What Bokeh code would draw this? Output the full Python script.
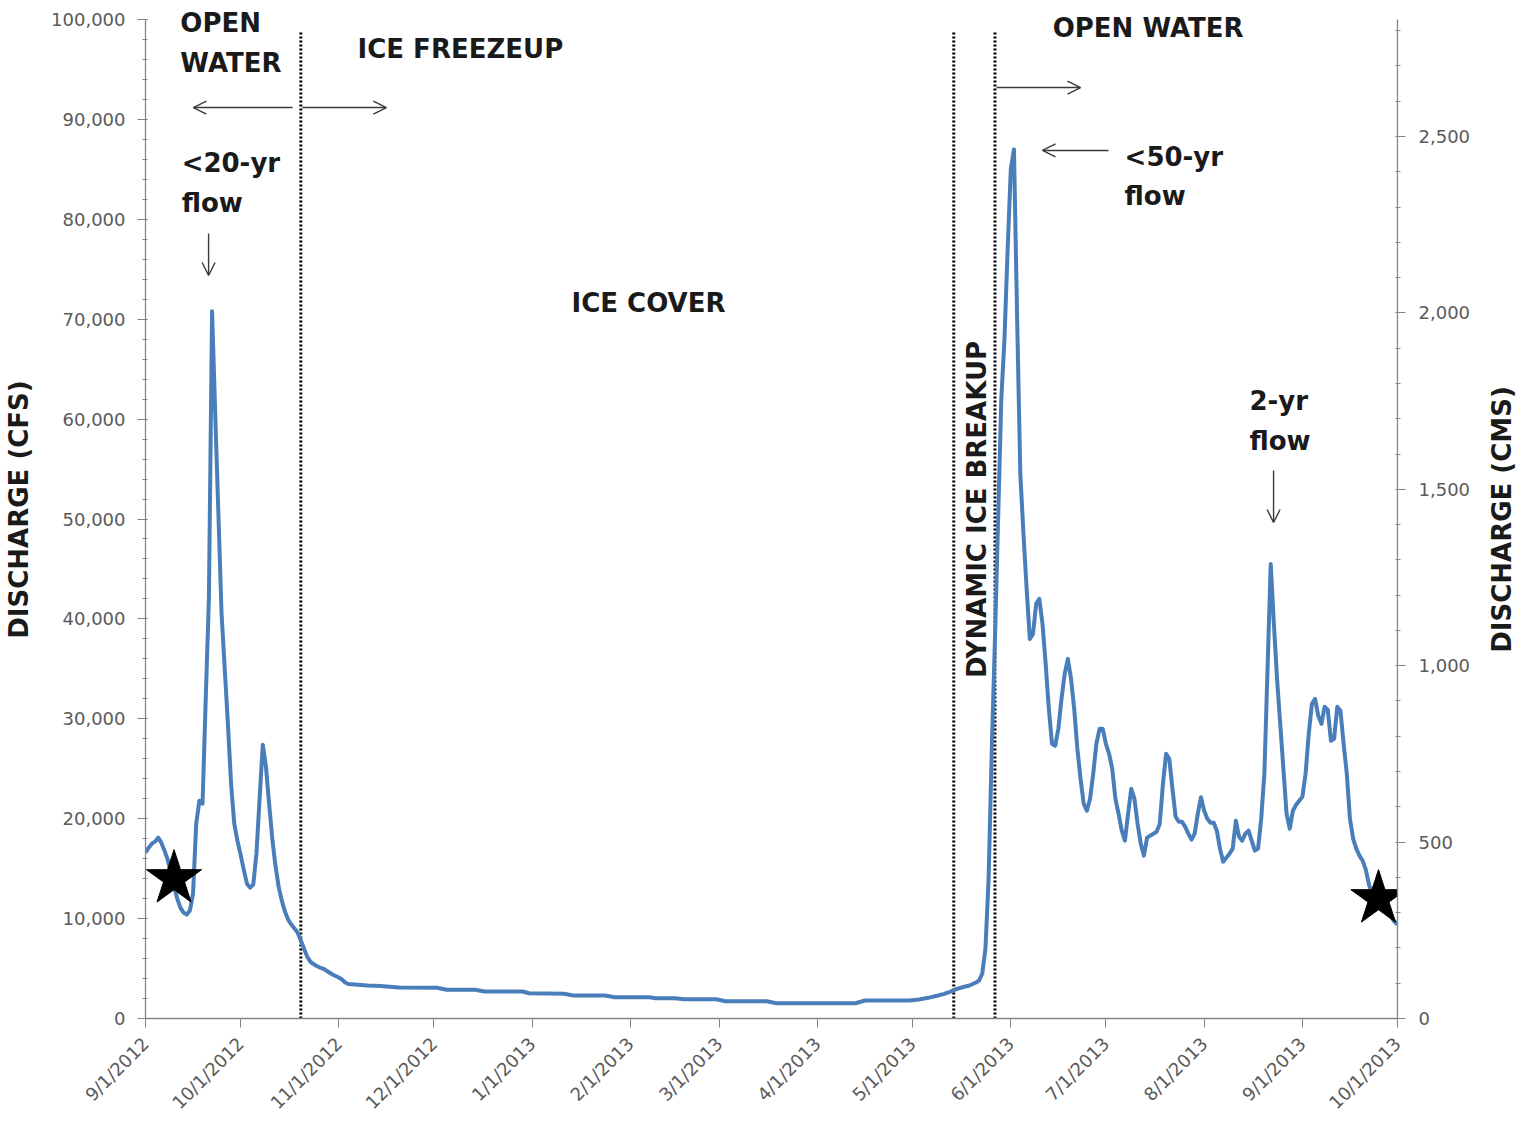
from math import pi

import pandas as pd
from bokeh.embed import file_html
from bokeh.layouts import row
from bokeh.models import (Arrow, ColumnDataSource, FixedTicker, Label,
                          LinearAxis, NumeralTickFormatter, OpenHead, Range1d)
from bokeh.plotting import figure
from bokeh.resources import INLINE

# ---------------------------------------------------------------- data
START = "2012-09-01"
END = "2013-10-01"

# days after START and daily mean discharge (cfs)
day_offset = [
    0, 1, 2, 3, 4, 5, 6, 7, 8, 9, 10, 11, 12, 13, 14, 15, 16, 17, 18, 19,
    20, 21, 22, 23, 24, 25, 26, 27, 28, 29, 30, 31, 32, 33, 34, 35, 36, 37,
    38, 39, 40, 41, 42, 43, 44, 45, 46, 47, 48, 49, 50, 51, 52, 53, 54, 55,
    56, 57, 58, 59, 60, 61, 62, 63, 64, 66, 70, 74, 80, 92, 95, 104, 107,
    119, 121, 132, 135, 145, 148, 159, 161, 167, 170, 180, 183, 196, 199,
    224, 227, 241, 244, 247, 250, 252, 254, 256, 258, 260, 262, 263, 264,
    265, 266, 267, 268, 269, 270, 271, 272, 273, 274, 275, 276, 277, 278,
    279, 280, 281, 282, 283, 284, 285, 286, 287, 288, 289, 290, 291, 292,
    293, 294, 295, 296, 297, 298, 299, 300, 301, 302, 303, 304, 305, 306,
    307, 308, 309, 310, 311, 312, 313, 314, 315, 316, 317, 318, 319, 320,
    321, 322, 323, 324, 325, 326, 327, 328, 329, 330, 331, 332, 333, 334,
    335, 336, 337, 338, 339, 340, 341, 342, 343, 344, 345, 346, 347, 348,
    349, 350, 351, 352, 353, 354, 355, 356, 357, 358, 359, 360, 361, 362,
    363, 364, 365, 366, 367, 368, 369, 370, 371, 372, 373, 374, 375, 376,
    377, 378, 379, 380, 381, 382, 383, 384, 385, 386, 387, 388, 389, 390,
    391, 392, 393, 394, 395,
]
discharge_cfs = [
    16600, 17100, 17500, 17700, 18100, 17600, 16800, 15900, 14600, 13300,
    12000, 11100, 10600, 10400, 10800, 12500, 19500, 21800, 21500, 32000,
    42000, 70800, 60500, 50500, 40500, 35000, 29500, 23500, 19500, 17800,
    16400, 14900, 13500, 13100, 13400, 16500, 22000, 27400, 25200, 21500,
    18000, 15300, 13200, 11800, 10700, 9900, 9400, 9000, 8600, 7800, 7000,
    6200, 5700, 5450, 5250, 5100, 5000, 4800, 4600, 4400, 4250, 4100, 3900,
    3600, 3450, 3400, 3300, 3250, 3100, 3070, 2870, 2870, 2700, 2700, 2530,
    2470, 2300, 2300, 2130, 2130, 2030, 2030, 1930, 1930, 1730, 1730, 1530,
    1530, 1800, 1800, 1900, 2070, 2300, 2470, 2700, 2970, 3150, 3300, 3600,
    3800, 4500, 7000, 14000, 27000, 38000, 50000, 62000, 68000, 77000,
    85000, 87000, 70000, 54500, 48500, 43000, 38000, 38500, 41500, 42000,
    39500, 35500, 31000, 27500, 27300, 29000, 32000, 34500, 36000, 34000,
    31000, 27000, 24000, 21500, 20800, 22000, 24500, 27500, 29000, 29000,
    27500, 26500, 25000, 22000, 20500, 18800, 17800, 20500, 23000, 22000,
    19500, 17500, 16300, 18100, 18300, 18500, 18700, 19500, 23500, 26500,
    26000, 23000, 20200, 19700, 19700, 19200, 18500, 17900, 18500, 20500,
    22150, 20800, 20000, 19600, 19600, 18800, 17000, 15700, 16100, 16500,
    17000, 19800, 18200, 17800, 18500, 18800, 17800, 16800, 17000, 20000,
    24500, 35000, 45500, 39500, 34000, 29500, 25000, 20500, 19000, 20800,
    21400, 21800, 22200, 24500, 28500, 31500, 32000, 30300, 29500, 31200,
    30900, 27800, 28000, 31200, 30800, 27500, 24500, 20000, 18000, 17000,
    16300, 15800, 14900, 13400, 12500, 11900, 11300, 11000, 10700, 10400,
    10200, 9700, 9400,
]

month_starts = [
    "2012-09-01", "2012-10-01", "2012-11-01", "2012-12-01", "2013-01-01",
    "2013-02-01", "2013-03-01", "2013-04-01", "2013-05-01", "2013-06-01",
    "2013-07-01", "2013-08-01", "2013-09-01", "2013-10-01",
]
month_labels = [
    "9/1/2012", "10/1/2012", "11/1/2012", "12/1/2012", "1/1/2013",
    "2/1/2013", "3/1/2013", "4/1/2013", "5/1/2013", "6/1/2013",
    "7/1/2013", "8/1/2013", "9/1/2013", "10/1/2013",
]

# freeze-up, start and end of the dynamic breakup
phase_dates = ["2012-10-20", "2013-05-14", "2013-05-27"]

# sampling visits
star_dates = ["2012-09-10", "2013-09-25"]
star_cfs = [14000, 12000]

cfs_ticks = list(range(0, 100001, 10000))
cms_ticks = [0, 500, 1000, 1500, 2000, 2500]
CFS_TO_CMS = 0.0283168

# ---------------------------------------------------------------- helpers
def ms(d):
    return pd.Timestamp(d).value / 1e6


def day_ms(days):
    return ms(START) + days * 86400000.0


dates = pd.Timestamp(START) + pd.to_timedelta(day_offset, unit="D")
tick_ms = [ms(d) for d in month_starts]

FONT = "DejaVu Sans"
AXIS_GREY = "#868686"
LABEL_GREY = "#5a5a5a"
INK = "#1a1a1a"

# the frame reaches the top of the canvas so the headings above the
# 100,000 line stay visible; the axis lines stop at 100,000
FRAME_H = 1018
CFS_TOP = 100000
Y_END = CFS_TOP * FRAME_H / 999.0
TOTAL_H = 1122
SIDE_W = 42          # strip carrying the right-hand axis title

p = figure(
    x_axis_type="datetime",
    frame_width=1252, frame_height=FRAME_H,
    min_border_left=145, min_border_right=83,
    min_border_top=0, min_border_bottom=TOTAL_H - FRAME_H,
    x_range=Range1d(ms(START), ms(END)),
    y_range=Range1d(0, Y_END),
    output_backend="svg", toolbar_location=None,
    background_fill_color="white", border_fill_color="white",
)
p.outline_line_color = None
p.xgrid.visible = False
p.ygrid.visible = False

# phase boundaries
phase_src = ColumnDataSource(dict(
    x=[ms(d) for d in phase_dates], y0=[0] * 3, y1=[98900] * 3))
p.segment(x0="x", x1="x", y0="y0", y1="y1", source=phase_src,
          line_color="black", line_width=3, line_dash="2 2")

# hydrograph
p.line(dates, discharge_cfs, line_color="#4a7ebb", line_width=4,
       line_join="round")

# sampling stars
p.scatter(pd.to_datetime(star_dates), star_cfs, marker="star", size=58,
          fill_color="black", line_color="black")

# ---------------------------------------------------------------- axes
xa = p.xaxis[0]
xa.ticker = FixedTicker(ticks=tick_ms, minor_ticks=[])
xa.major_label_overrides = {t: lab for t, lab in zip(tick_ms, month_labels)}
xa.major_label_orientation = pi / 4
xa.major_label_standoff = 13

ya = p.yaxis[0]
ya.ticker = FixedTicker(ticks=cfs_ticks, minor_ticks=list(range(0, 100001, 2000)))
ya.formatter = NumeralTickFormatter(format="0,0")
ya.bounds = (0, CFS_TOP)
ya.axis_label = "DISCHARGE (CFS)"
ya.major_label_standoff = 12
ya.axis_label_standoff = 14

p.extra_y_ranges = {"cms": Range1d(0, Y_END * CFS_TO_CMS)}
ra = LinearAxis(
    y_range_name="cms",
    ticker=FixedTicker(ticks=cms_ticks, minor_ticks=list(range(0, 2801, 100))),
    formatter=NumeralTickFormatter(format="0,0"),
    bounds=(0, CFS_TOP * CFS_TO_CMS),
)
ra.major_label_standoff = 13
p.add_layout(ra, "right")

for ax in (xa, ya, ra):
    ax.axis_line_color = AXIS_GREY
    ax.axis_line_width = 1.3
    ax.major_tick_line_color = AXIS_GREY
    ax.minor_tick_line_color = AXIS_GREY
    ax.major_tick_in = 2
    ax.major_tick_out = 8
    ax.minor_tick_in = 2
    ax.minor_tick_out = 3
    ax.major_label_text_font = FONT
    ax.major_label_text_font_size = "18px"
    ax.major_label_text_color = LABEL_GREY
    ax.axis_label_text_font = FONT
    ax.axis_label_text_font_size = "26px"
    ax.axis_label_text_font_style = "bold"
    ax.axis_label_text_color = INK
xa.minor_tick_line_color = None
xa.major_tick_in = 0
xa.major_tick_out = 9

# ---------------------------------------------------------------- annotations
def note(day, cfs, text, align="left", angle=0.0):
    p.add_layout(Label(
        x=day_ms(day), y=cfs, text=text, angle=angle,
        text_font=FONT, text_font_size="26px", text_font_style="bold",
        text_color=INK, text_align=align, text_baseline="middle"))


note(11.0, 99600, "OPEN")
note(11.0, 95600, "WATER")
note(66.9, 97000, "ICE FREEZEUP")
note(11.4, 85600, "<20-yr")
note(11.4, 81600, "flow")
note(158.7, 71600, "ICE COVER", align="center")
note(262.2, 50950, "DYNAMIC ICE BREAKUP", align="center", angle=pi / 2)
note(286.2, 99100, "OPEN WATER")
note(308.9, 86200, "<50-yr")
note(308.9, 82300, "flow")
note(348.3, 61800, "2-yr")
note(348.3, 57800, "flow")


def arrow(d0, y0, d1, y1):
    p.add_layout(Arrow(
        x_start=day_ms(d0), y_start=y0, x_end=day_ms(d1), y_end=y1,
        line_color="#3a3a3a", line_width=1.4,
        end=OpenHead(size=13, line_color="#3a3a3a", line_width=1.4)))


arrow(46.4, 91190, 15.1, 91190)
arrow(49.5, 91190, 76.0, 91190)
arrow(19.9, 78580, 19.9, 74370)
arrow(268.5, 93190, 295.0, 93190)
arrow(303.8, 86890, 283.0, 86890)
arrow(355.9, 54850, 355.9, 49650)

# ---------------------------------------------------------------- right title
# a narrow strip beside the chart holds the CMS axis title, reading upward
side = figure(
    frame_width=SIDE_W, frame_height=TOTAL_H,
    min_border=0, x_range=Range1d(0, SIDE_W), y_range=Range1d(0, TOTAL_H),
    x_axis_location=None, y_axis_location=None,
    output_backend="svg", toolbar_location=None,
    background_fill_color="white", border_fill_color="white",
)
side.outline_line_color = None
side.xgrid.visible = False
side.ygrid.visible = False
side.add_layout(Label(
    x=SIDE_W / 2, y=TOTAL_H - 519, text="DISCHARGE (CMS)", angle=pi / 2,
    text_font=FONT, text_font_size="26px", text_font_style="bold",
    text_color=INK, text_align="center", text_baseline="middle"))

open("out.html", "w").write(file_html(row(p, side), INLINE))
